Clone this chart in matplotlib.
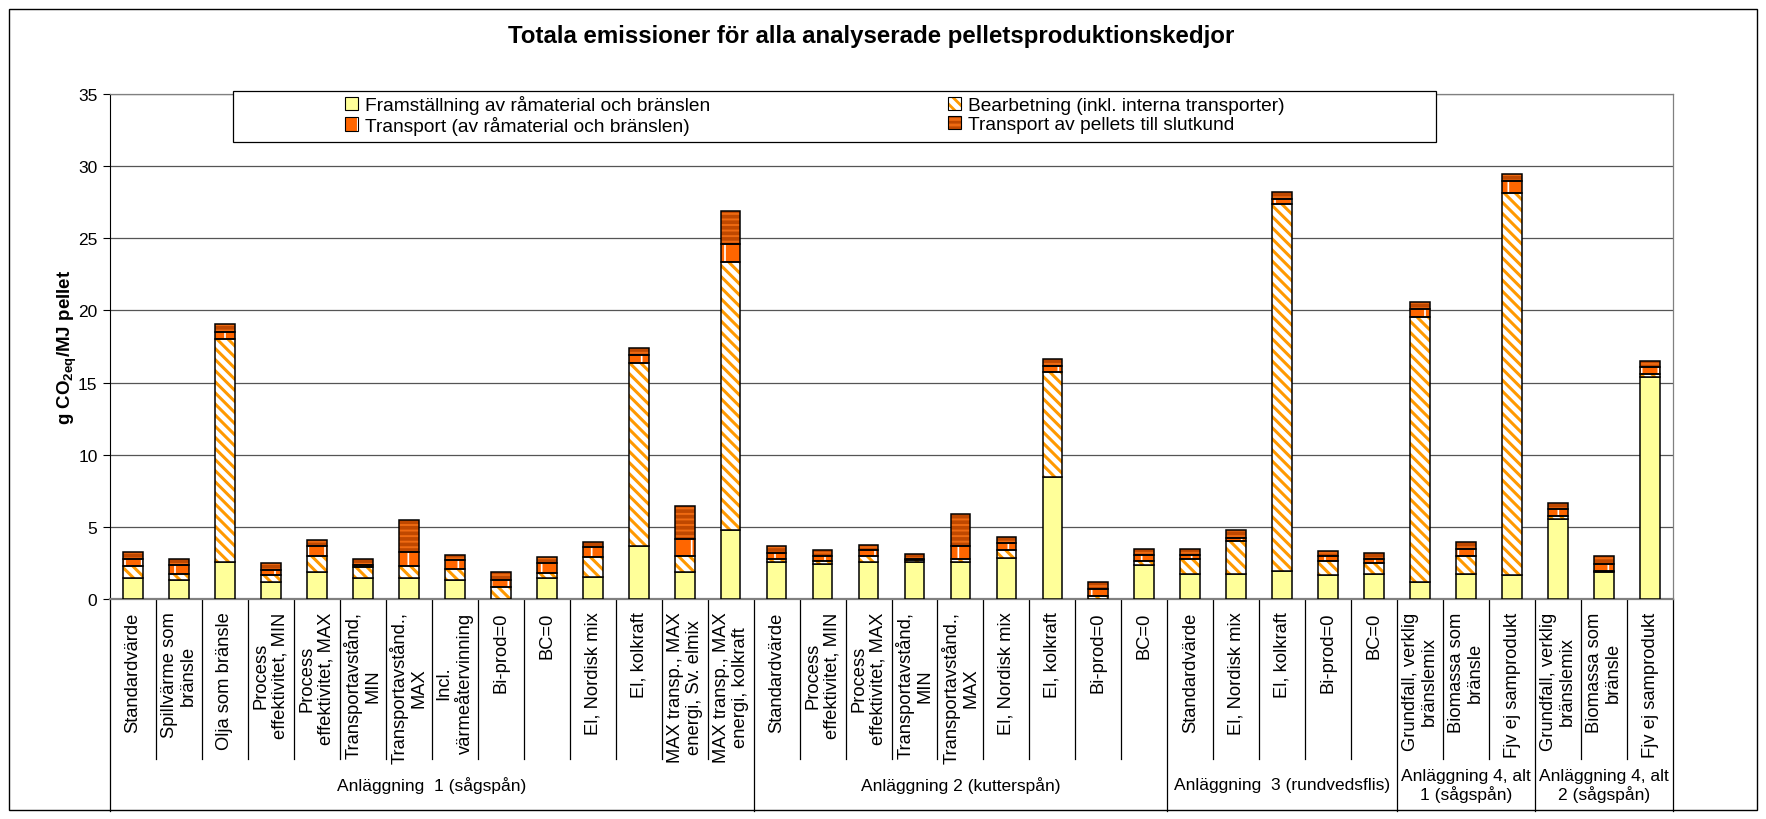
import numpy as np
import matplotlib
matplotlib.use("Agg")
import matplotlib.pyplot as plt
from matplotlib.patches import Patch, Rectangle
from matplotlib.lines import Line2D
import matplotlib.transforms as mtransforms

plt.rcParams['font.family'] = ['Liberation Sans', 'DejaVu Sans']
plt.rcParams['mathtext.fontset'] = 'custom'
plt.rcParams['mathtext.rm'] = 'Liberation Sans'
plt.rcParams['mathtext.bf'] = 'Liberation Sans:bold'
plt.rcParams['hatch.linewidth'] = 2.0

# data (g CO2eq / MJ pellet)
groups = ["Anläggning  1 (sågspån)", "Anläggning 2 (kutterspån)",
          "Anläggning  3 (rundvedsflis)", "Anläggning 4, alt\n1 (sågspån)",
          "Anläggning 4, alt\n2 (sågspån)"]
group_sizes = [14, 9, 5, 3, 3]

categories = [
    "Standardvärde", "Spillvärme som\nbränsle", "Olja som bränsle",
    "Process\neffektivitet, MIN", "Process\neffektivitet, MAX",
    "Transportavstånd,\nMIN", "Transportavstånd.,\nMAX", "Incl.\nvärmeåtervinning",
    "Bi-prod=0", "BC=0", "El, Nordisk mix", "El, kolkraft",
    "MAX transp., MAX\nenergi, Sv. elmix", "MAX transp., MAX\nenergi, kolkraft",
    "Standardvärde", "Process\neffektivitet, MIN", "Process\neffektivitet, MAX",
    "Transportavstånd,\nMIN", "Transportavstånd.,\nMAX", "El, Nordisk mix",
    "El, kolkraft", "Bi-prod=0", "BC=0",
    "Standardvärde", "El, Nordisk mix", "El, kolkraft", "Bi-prod=0", "BC=0",
    "Grundfall, verklig\nbränslemix", "Biomassa som\nbränsle", "Fjv ej samprodukt",
    "Grundfall, verklig\nbränslemix", "Biomassa som\nbränsle", "Fjv ej samprodukt",
]

framstallning = [1.46, 1.34, 2.55, 1.16, 1.85, 1.46, 1.46, 1.34, 0.0, 1.46, 1.55, 3.65, 1.85, 4.75,
                 2.55, 2.45, 2.55, 2.55, 2.55, 2.85, 8.47, 0.0, 2.36,
                 1.76, 1.76, 1.95, 1.67, 1.76,
                 1.18, 1.76, 1.67,
                 5.56, 1.87, 15.40]
bearbetning = [0.80, 0.42, 15.45, 0.53, 1.14, 0.76, 0.81, 0.77, 0.81, 0.37, 1.39, 12.74, 1.14, 18.63,
               0.23, 0.17, 0.41, 0.16, 0.19, 0.58, 7.27, 0.23, 0.28,
               1.00, 2.27, 25.41, 0.97, 0.72,
               18.38, 1.23, 26.50,
               0.18, 0.10, 0.18]
transport = [0.51, 0.62, 0.48, 0.35, 0.67, 0.16, 0.97, 0.58, 0.53, 0.67, 0.65, 0.51, 1.15, 1.20,
             0.39, 0.37, 0.42, 0.07, 0.92, 0.44, 0.42, 0.44, 0.42,
             0.30, 0.21, 0.37, 0.35, 0.30,
             0.53, 0.51, 0.83,
             0.51, 0.48, 0.49]
pellets = [0.51, 0.38, 0.55, 0.44, 0.41, 0.38, 2.25, 0.39, 0.51, 0.40, 0.39, 0.51, 2.34, 2.34,
           0.51, 0.39, 0.39, 0.32, 2.22, 0.44, 0.46, 0.51, 0.41,
           0.39, 0.53, 0.51, 0.37, 0.39,
           0.51, 0.48, 0.44,
           0.42, 0.54, 0.43]

series_names = ["Framställning av råmaterial och bränslen",
                "Bearbetning (inkl. interna transporter)",
                "Transport (av råmaterial och bränslen)",
                "Transport av pellets till slutkund"]

W, H = 1766, 820
fig = plt.figure(figsize=(W / 100, H / 100), dpi=100)
ax = fig.add_axes([110 / W, 1 - 600 / H, (1673 - 110) / W, (600 - 95) / H])

x = np.arange(len(categories))
bw = 0.43
bottom = np.zeros(len(x))

# (values, facecolor, hatch, hatchcolor, hatch linewidth)
styles = [
    (framstallning, "#FFFF99", None, None, 0),
    (bearbetning, "white", "\\\\\\", "#FF9900", 2.2),
    (transport, "#FF6600", "|", "white", 1.2),
    (pellets, "#BF4800", "---", "#EE6A12", 1.4),
]
for vals, face, hatch, hcol, hlw in styles:
    vals = np.array(vals)
    if hatch is None:
        ax.bar(x, vals, bw, bottom=bottom, color=face, edgecolor="black", linewidth=1.1, zorder=3)
    else:
        bars = ax.bar(x, vals, bw, bottom=bottom, color=face, edgecolor=hcol, hatch=hatch,
                      linewidth=0, zorder=3)
        for p in bars:
            if hasattr(p, "set_hatch_linewidth"):
                p.set_hatch_linewidth(hlw)
        ax.bar(x, vals, bw, bottom=bottom, fill=False, edgecolor="black", linewidth=1.1, zorder=4)
    bottom += vals

ax.set_xlim(-0.5, len(x) - 0.5)
ax.set_ylim(0, 35)
ax.set_yticks(range(0, 36, 5))
ax.yaxis.grid(True, color="#555555", linewidth=0.9)
ax.set_axisbelow(True)
ax.tick_params(axis="y", direction="out", length=5, labelsize=12.5, pad=4)
ax.tick_params(axis="x", bottom=False, labelbottom=False)
ax.spines["left"].set_color("black")
ax.spines["bottom"].set_color("#808080")
ax.spines["bottom"].set_linewidth(1.6)
for s in ["top", "right"]:
    ax.spines[s].set_color("#808080")
    ax.spines[s].set_linewidth(0.9)

ax.set_ylabel(r"g CO$_{\mathbf{2eq}}$/MJ pellet", fontsize=13.5, fontweight="bold")
ax.yaxis.set_label_coords(-0.020, 0.5)

# category labels and dividers below the axis
trans = mtransforms.blended_transform_factory(ax.transData, ax.transAxes)
ph = 600 - 95
for i, lab in enumerate(categories):
    ax.annotate(lab, xy=(i, 0), xycoords=trans, xytext=(0, -9), textcoords="offset points",
                rotation=90, ha="center", va="top", multialignment="center", fontsize=13.2,
                linespacing=1.15)

edges = np.cumsum([0] + group_sizes) - 0.5
for b in np.arange(-0.5, len(x), 1.0):
    low = -(812 - 600) / ph if np.any(np.isclose(edges, b)) else -(760 - 600) / ph
    ax.add_line(Line2D([b, b], [0, low], transform=trans, color="black", lw=0.9, clip_on=False))

for k, g in enumerate(groups):
    c = (edges[k] + edges[k + 1]) / 2
    ax.text(c, -(786 - 600) / ph, g, transform=trans, ha="center", va="center", fontsize=12.5,
            multialignment="center", linespacing=1.1)

# legend
handles = []
for s in styles:
    if s[2] is None:
        handles.append(Patch(facecolor=s[1], edgecolor="black", linewidth=0.8))
    else:
        handles.append((Patch(facecolor=s[1], edgecolor=s[3], hatch=s[2], linewidth=0),
                        Patch(fill=False, edgecolor="black", linewidth=0.8)))
order = [0, 2, 1, 3]
fig.legend([handles[i] for i in order], [series_names[i] for i in order],
           loc="upper left", bbox_to_anchor=(345 / W, 1 - 96 / H), ncol=2, frameon=False,
           fontsize=13.8, handlelength=0.7, handleheight=0.7, handletextpad=0.35,
           columnspacing=12.4, labelspacing=0.08, borderpad=0, borderaxespad=0)
fig.patches.append(Rectangle((233 / W, 1 - 143 / H), (1436 - 233) / W, 51 / H,
                             transform=fig.transFigure, facecolor="white", edgecolor="black",
                             linewidth=0.9, zorder=5))

fig.text(871 / W, 1 - 37 / H, "Totala emissioner för alla analyserade pelletsproduktionskedjor",
         ha="center", va="center", fontsize=17.3, fontweight="bold")

fig.patches.append(Rectangle((9 / W, 1 - 811 / H), (1757 - 9) / W, (811 - 10) / H,
                             transform=fig.transFigure, fill=False, edgecolor="black",
                             linewidth=1.0))

fig.savefig("out.png", dpi=100)
